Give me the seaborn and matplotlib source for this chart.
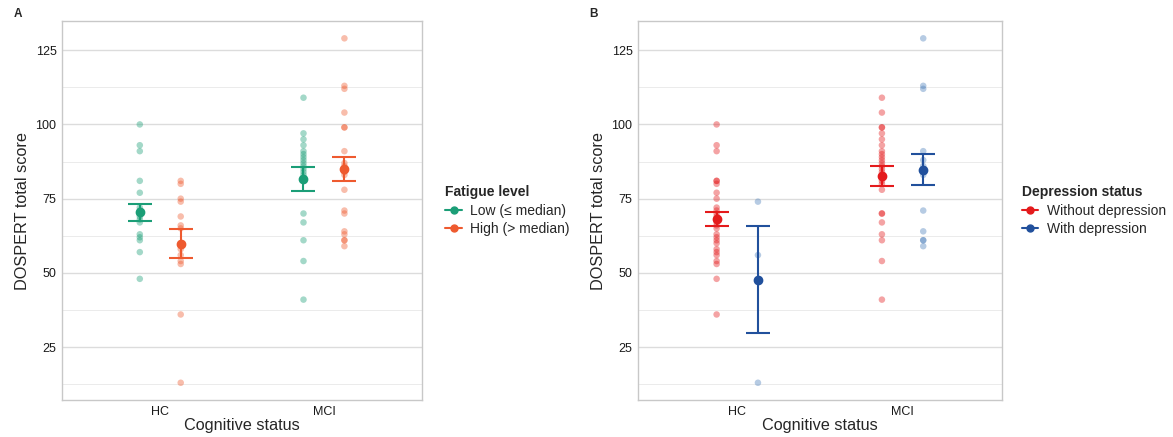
import numpy as np
import pandas as pd
import matplotlib.pyplot as plt
import seaborn as sns
from matplotlib.lines import Line2D

# DOSPERT scores by cognitive status, split by fatigue (A) and depression (B)
groups = ['HC', 'MCI']

fatigue_levels = ['Low (≤ median)', 'High (> median)']
fatigue_colors = ['#1B9E77', '#EE5A2F']
hc_low = [100, 93, 91, 81, 77, 72, 71, 70, 69, 68, 67, 63, 62, 61, 57, 48]
hc_high = [81, 80, 75, 74, 69, 66, 65, 60, 58, 56, 54, 53, 36, 13]
mci_low = [109, 97, 95, 93, 91, 90, 89, 88, 87, 86, 85, 84, 83, 82, 81, 70, 67, 61, 54, 41]
mci_high = [129, 113, 112, 104, 99, 99, 91, 87, 86, 85, 84, 83, 78, 71, 70, 64, 63, 61, 61, 59]
# mean and mean±SE, order: HC-low, HC-high, MCI-low, MCI-high
fatigue_mean = [70.5, 59.9, 81.6, 85.0]
fatigue_lo = [67.6, 55.1, 77.7, 81.0]
fatigue_hi = [73.3, 64.9, 85.6, 89.2]

depr_levels = ['Without depression', 'With depression']
depr_colors = ['#E41A1C', '#21509C']
depr_point_colors = ['#E41A1C', '#4A7DBA']
hc_without = [100, 93, 91, 81, 81, 80, 77, 75, 72, 71, 70, 69, 68, 67, 66, 65, 63, 62, 61,
              60, 58, 57, 56, 54, 53, 48, 36]
hc_with = [74, 56, 13]
mci_without = [109, 104, 99, 99, 97, 95, 93, 91, 90, 89, 88, 87, 86, 85, 84, 83, 82, 81, 80,
               78, 70, 70, 67, 63, 61, 54, 41]
mci_with = [129, 113, 112, 91, 88, 86, 85, 84, 83, 71, 64, 61, 61, 59]
depr_mean = [68.2, 47.7, 82.5, 84.7]
depr_lo = [65.8, 29.9, 79.3, 79.7]
depr_hi = [70.4, 65.8, 85.9, 90.2]

sns.set_theme(style='white')
plt.rcParams['font.family'] = ['Liberation Sans', 'DejaVu Sans']

DODGE = 0.125


def make_df(sets, levels):
    rows = []
    for gi, g in enumerate(groups):
        for li, lev in enumerate(levels):
            for v in sets[gi][li]:
                rows.append({'group': g, 'level': lev, 'score': v,
                             'xpos': gi + (li - 0.5) * 2 * DODGE})
    return pd.DataFrame(rows)


def panel(ax, df, levels, colors, pcolors, means, los, his, title, label, legx):
    sns.scatterplot(data=df, x='xpos', y='score', hue='level', hue_order=levels,
                    palette=pcolors, alpha=0.4, s=22, linewidth=0, ax=ax, legend=False)
    k = 0
    for gi in range(len(groups)):
        for li in range(len(levels)):
            x = gi + (li - 0.5) * 2 * DODGE
            ax.errorbar([x], [means[k]], yerr=[[means[k] - los[k]], [his[k] - means[k]]],
                        fmt='o', color=colors[li], ms=6, elinewidth=1.5, capsize=8.7,
                        capthick=1.5, zorder=5)
            k += 1
    ax.set_xlim(-0.6, 1.6)
    ax.set_ylim(7.2, 134.8)
    ax.set_xticks([0, 1])
    ax.set_xticklabels(groups)
    ax.set_yticks([25, 50, 75, 100, 125])
    ax.set_yticks([12.5, 37.5, 62.5, 87.5, 112.5], minor=True)
    ax.grid(axis='y', which='major', color='#dcdcdc', lw=1.0)
    ax.grid(axis='y', which='minor', color='#ebebeb', lw=0.7)
    ax.grid(axis='x', which='major', visible=False)
    ax.set_axisbelow(True)
    for sp in ax.spines.values():
        sp.set_color('#c8c8c8')
        sp.set_linewidth(1.0)
    ax.tick_params(axis='both', which='major', labelsize=9, length=0, pad=4, colors='#1a1a1a')
    ax.tick_params(axis='y', which='minor', length=0)
    ax.set_xlabel('Cognitive status', fontsize=11.7, labelpad=0)
    ax.set_ylabel('DOSPERT total score', fontsize=11.7, labelpad=4)
    handles = [Line2D([0], [0], color=c, marker='o', ms=5, lw=1.5) for c in colors]
    leg = ax.legend(handles, levels, title=title, loc='center left',
                    bbox_to_anchor=(legx, 0.5), frameon=False, fontsize=10,
                    title_fontproperties={'weight': 'bold', 'size': 10},
                    handlelength=1.2, handletextpad=0.6, labelspacing=0.3)
    leg._legend_box.align = 'left'
    ax.text(-0.135, 1.02, label, transform=ax.transAxes, fontsize=8.5,
            fontweight='bold', va='center', ha='left')


fig = plt.figure(figsize=(11.73, 4.37), dpi=100)
ax1 = fig.add_axes([0.0529, 0.0847, 0.307, 0.867])
ax2 = fig.add_axes([0.544, 0.0847, 0.310, 0.867])

df_a = make_df([[hc_low, hc_high], [mci_low, mci_high]], fatigue_levels)
df_b = make_df([[hc_without, hc_with], [mci_without, mci_with]], depr_levels)

panel(ax1, df_a, fatigue_levels, fatigue_colors, fatigue_colors,
      fatigue_mean, fatigue_lo, fatigue_hi, 'Fatigue level', 'A', 1.03)
panel(ax2, df_b, depr_levels, depr_colors, depr_point_colors,
      depr_mean, depr_lo, depr_hi, 'Depression status', 'B', 1.02)

plt.savefig('out.png', dpi=100)
